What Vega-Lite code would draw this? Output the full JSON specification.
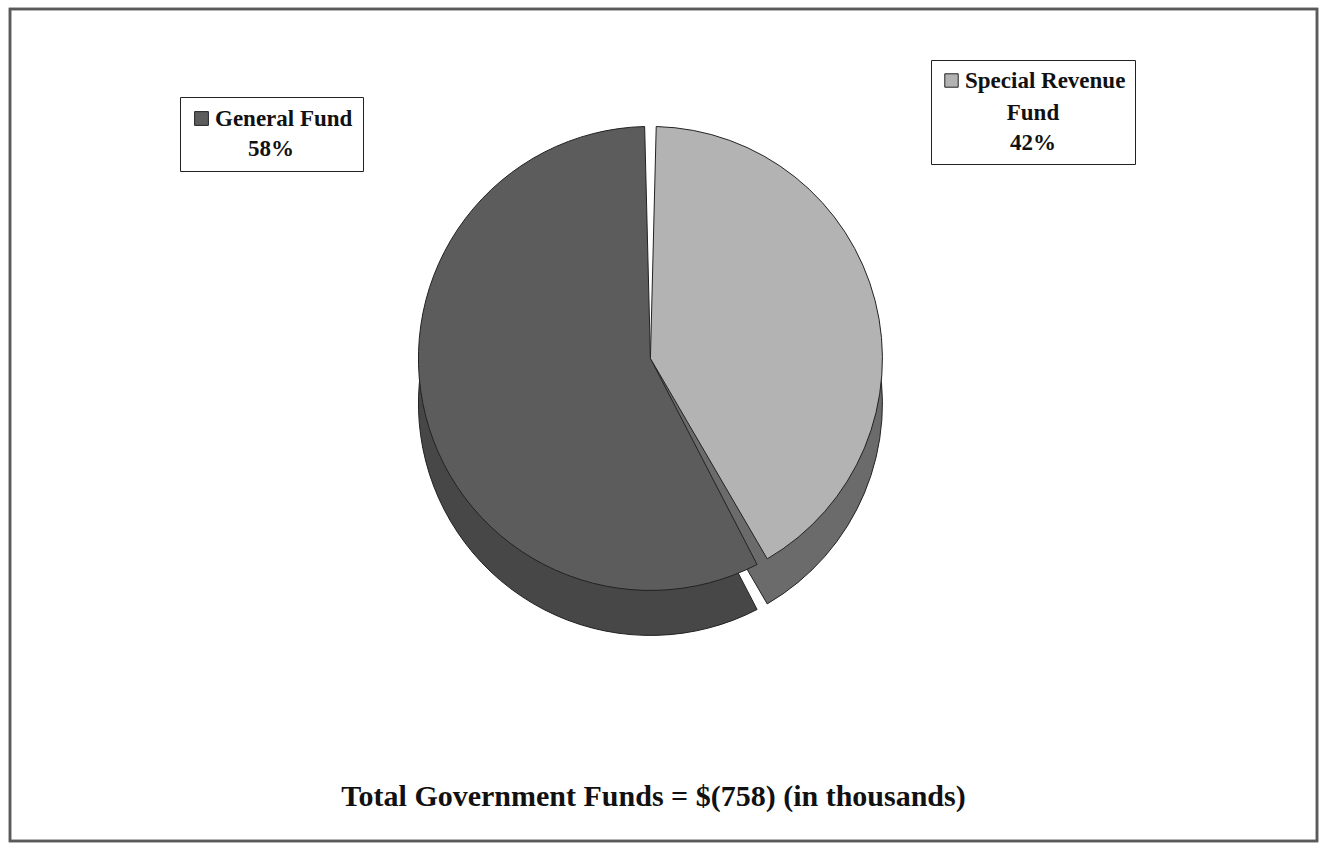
{
  "$schema": "https://vega.github.io/schema/vega-lite/v6.json",
  "width": 1324,
  "height": 850,
  "autosize": {"type": "fit", "contains": "padding"},
  "padding": {"left": 8, "top": 7, "right": 5, "bottom": 7},
  "background": "white",
  "title": {
    "text": "Total Government Funds = $(758) (in thousands)",
    "orient": "bottom",
    "offset": -60,
    "anchor": "middle",
    "dx": -10,
    "font": "Liberation Serif",
    "fontSize": 30,
    "fontWeight": "bold",
    "color": "#111111"
  },
  "data": {
    "values": [
      {"fund": "General Fund", "value": 58, "label": "58%"},
      {"fund": "Special Revenue Fund", "value": 42, "label": "42%"}
    ]
  },
  "transform": [
    {"stack": "value", "groupby": [], "sort": [{"field": "fund", "order": "descending"}], "as": ["v0", "v1"]}
  ],
  "layer": [
    {
      "mark": {"type": "rect", "filled": false, "fill": null, "stroke": "#5a5a5a", "strokeWidth": 2.5},
      "encoding": {}
    },
    {
      "mark": {"type": "arc", "radius": 232, "padAngle": 0.05, "stroke": "#222222", "strokeWidth": 1, "x": {"expr": "width*0.49"}, "y": {"expr": "height*0.42+45"}},
      "encoding": {
        "theta": {"field": "v0", "type": "quantitative", "scale": {"domain": [0, 100]}},
        "theta2": {"field": "v1"},
        "color": {"field": "fund", "type": "nominal", "scale": {"domain": ["General Fund", "Special Revenue Fund"], "range": ["#474747", "#6b6b6b"]}, "legend": null}
      }
    },
    {
      "transform": [{"filter": "datum.fund === 'General Fund'"}],
      "mark": {"type": "arc", "radius": 232, "padAngle": 0.05, "stroke": "#222222", "strokeWidth": 1, "x": {"expr": "width*0.49"}, "y": {"expr": "height*0.42"}},
      "encoding": {
        "theta": {"field": "v0", "type": "quantitative", "scale": {"domain": [0, 100]}},
        "theta2": {"field": "v1"},
        "color": {
          "field": "fund", "type": "nominal",
          "scale": {"domain": ["General Fund"], "range": ["#5c5c5c"]},
          "legend": {
            "orient": "none", "legendX": 170, "legendY": 88,
            "title": "58%", "titleOrient": "bottom", "titleAnchor": "middle",
            "titleFont": "Liberation Serif", "titleFontSize": 23, "titleFontWeight": "bold", "titleColor": "#111111", "titlePadding": 7,
            "labelFont": "Liberation Serif", "labelFontSize": 23, "labelFontWeight": "bold", "labelColor": "#111111", "labelLimit": 400, "labelOffset": 2,
            "symbolType": "square", "symbolSize": 190, "symbolStrokeColor": "#222222", "symbolStrokeWidth": 1,
            "strokeColor": "#222222", "fillColor": "white", "padding": 10
          }
        }
      }
    },
    {
      "transform": [{"filter": "datum.fund === 'Special Revenue Fund'"}],
      "mark": {"type": "arc", "radius": 232, "padAngle": 0.05, "stroke": "#222222", "strokeWidth": 1, "x": {"expr": "width*0.49"}, "y": {"expr": "height*0.42"}},
      "encoding": {
        "theta": {"field": "v0", "type": "quantitative", "scale": {"domain": [0, 100]}},
        "theta2": {"field": "v1"},
        "color": {
          "field": "fund", "type": "nominal",
          "scale": {"domain": ["Special Revenue Fund"], "range": ["#b3b3b3"]},
          "legend": {
            "orient": "none", "legendX": 921, "legendY": 51,
            "title": ["Fund", "42%"], "titleOrient": "bottom", "titleAnchor": "middle", "titleLineHeight": 30,
            "titleFont": "Liberation Serif", "titleFontSize": 23, "titleFontWeight": "bold", "titleColor": "#111111", "titlePadding": 9,
            "labelExpr": "'Special Revenue'",
            "labelFont": "Liberation Serif", "labelFontSize": 23, "labelFontWeight": "bold", "labelColor": "#111111", "labelLimit": 400, "labelOffset": 2,
            "symbolType": "square", "symbolSize": 180, "symbolStrokeColor": "#222222", "symbolStrokeWidth": 1,
            "strokeColor": "#222222", "fillColor": "white", "padding": 9
          }
        }
      }
    }
  ],
  "resolve": {"scale": {"color": "independent"}, "legend": {"color": "independent"}},
  "config": {"view": {"stroke": null}}
}
